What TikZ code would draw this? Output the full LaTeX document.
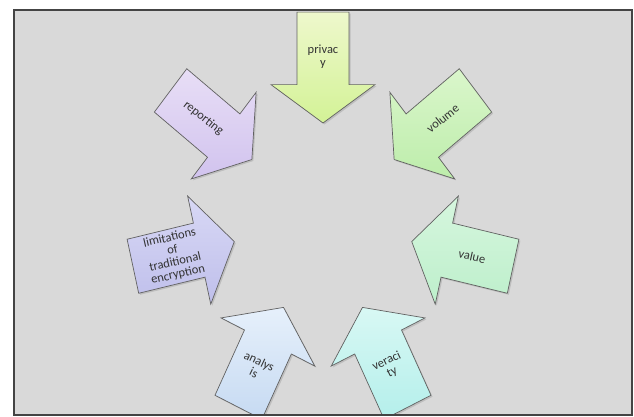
\documentclass[tikz,border=0pt]{standalone}
\usepackage{fontspec}
\setmainfont{Carlito}
\definecolor{bggray}{HTML}{D9D9D9}
\definecolor{frame}{HTML}{444444}
\definecolor{prT}{HTML}{EEF8CC}\definecolor{prB}{HTML}{D3F296}
\definecolor{voT}{HTML}{DAF6CB}\definecolor{voB}{HTML}{BDEDAB}
\definecolor{vaT}{HTML}{D6F6DE}\definecolor{vaB}{HTML}{BDEFCB}
\definecolor{veT}{HTML}{D8F8F4}\definecolor{veB}{HTML}{B4EFEB}
\definecolor{anT}{HTML}{E6F0FB}\definecolor{anB}{HTML}{C6DAF2}
\definecolor{liT}{HTML}{D8D8F5}\definecolor{liB}{HTML}{BFBFEB}
\definecolor{reT}{HTML}{E8DEF6}\definecolor{reB}{HTML}{D1C3EE}
\begin{document}
\begin{tikzpicture}[x=1pt,y=1pt,
  arrowshape/.style={draw=black!62, line width=0.7pt, line join=miter,
    preaction={fill=black, opacity=0.12, transform canvas={shift={(1.5pt,-1.5pt)}}}},
  lbl/.style={font=\fontsize{12.5}{12.5}\selectfont, text=black!80, align=center, inner sep=0pt}]
\useasboundingbox (0,0) rectangle (634,-417);
\fill[white] (0,0) rectangle (634,-417);
\fill[bggray] (14,-10) rectangle (632,-415);
\begin{scope}
\clip (14,-10) rectangle (632,-415);
\begin{scope}[shift={(323,-220)}, yscale=1.066]
\foreach \a/\ct/\cb/\txt/\tr/\nm in {
  90/prT/prB/{privac\\y}/0/privacy,
  38.57/voT/voB/{volume}/38.57/volume,
  -12.86/vaT/vaB/{value}/-12.86/value,
  -64.29/veT/veB/{veraci\\ty}/25.71/veracity,
  -115.71/anT/anB/{analys\\is}/-25.71/analysis,
  192.86/liT/liB/{limitations\\of\\traditional\\encryption}/12.86/limitations,
  141.43/reT/reB/{reporting}/-38.57/reporting}{
  \pgfmathsetmacro\cs{cos(\a)}
  \pgfmathsetmacro\sn{sin(\a)}
  \path[arrowshape, top color=\ct, bottom color=\cb]
    ({91*\cs},{91*\sn})
    -- ({127*\cs-52*\sn},{127*\sn+52*\cs})
    -- ({127*\cs-26*\sn},{127*\sn+26*\cs})
    -- ({195*\cs-26*\sn},{195*\sn+26*\cs})
    -- ({195*\cs+26*\sn},{195*\sn-26*\cs})
    -- ({127*\cs+26*\sn},{127*\sn-26*\cs})
    -- ({127*\cs+52*\sn},{127*\sn-52*\cs})
    -- cycle;
  \node[lbl, rotate=\tr] (\nm) at ({153*\cs},{153*\sn}) {\txt};
}
\end{scope}
\end{scope}
\draw[frame, line width=2.2pt] (14,-10) rectangle (632,-415);
\end{tikzpicture}
\end{document}
